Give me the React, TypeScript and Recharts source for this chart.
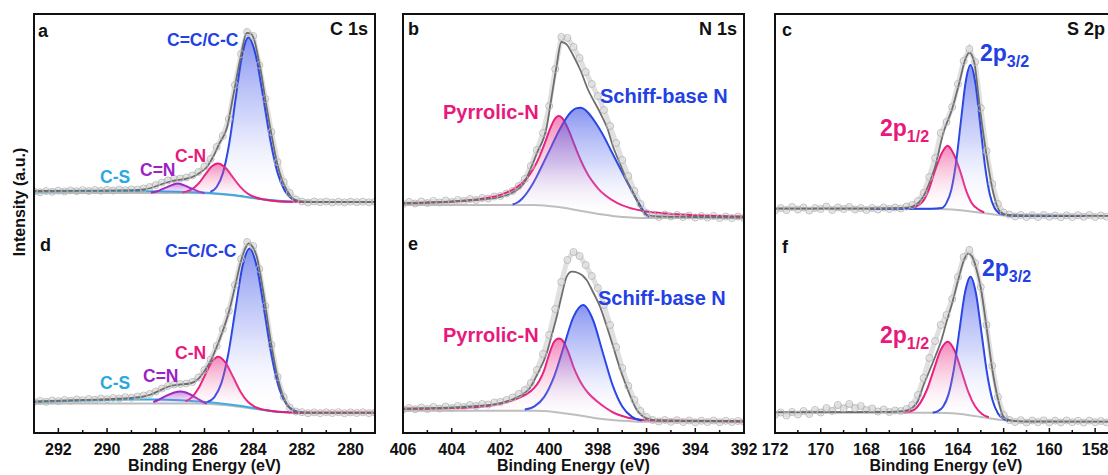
import React from 'react';
import { ComposedChart, Area, XAxis, YAxis } from 'recharts';

type Pt = [number, number];

const FONT = '"Liberation Sans", Arial, Helvetica, sans-serif';
const BLUE = '#2240e4';
const PINK = '#e8197c';
const PURPLE = '#9c22c4';
const CYAN = '#2aa7e2';
const ENV = '#6e6e6e';
const BGL = '#bdbdbd';

// ---------- tick values ----------
const C1S_TICKS = [293, 292, 291, 290, 289, 288, 287, 286, 285, 284, 283, 282, 281, 280, 279];
const N1S_TICKS = [406, 405, 404, 403, 402, 401, 400, 399, 398, 397, 396, 395, 394, 393, 392];
const S2P_TICKS = [172, 171, 170, 169, 168, 167, 166, 165, 164, 163, 162, 161, 160, 159, 158, 157];

// ---------- C 1s, panel a (upper) ----------
const A_RAW: Pt[] = [[293,241.5],[292.75,240.8],[292.5,242],[292.25,241.2],[292,242.3],[291.75,241.5],[291.5,242.6],[291.25,241.8],[291,242.8],[290.75,242],[290.5,243],[290.25,242.2],[290,243.2],[289.75,242.4],[289.5,243.4],[289.25,242.8],[289,243.6],[288.75,243.5],[288.5,244.5],[288.25,246],[288,248],[287.75,250.5],[287.5,252.5],[287.25,254],[287,254.5],[286.75,255.5],[286.5,257.5],[286.25,261],[286,266.5],[285.75,274],[285.5,286],[285.25,297],[285,314],[284.75,348],[284.5,379],[284.25,401],[284,397],[283.75,368],[283.5,334],[283.25,301],[283,271],[282.75,251],[282.5,240],[282.25,233.5],[282,231.5],[281.75,230.5],[281.5,231.5],[281.25,230.8],[281,231.5],[280.75,230.5],[280.5,231.2],[280.25,230.6],[280,231.4],[279.75,230.8],[279.5,231.3],[279.25,230.7],[279,231.2]];
const A_ENV: Pt[] = [[293,242],[291,242.3],[289,242.8],[288.5,243.5],[288.2,245],[287.8,248.5],[287.4,251.5],[287.1,253],[286.8,254],[286.5,256],[286.2,260],[285.9,266],[285.65,276],[285.4,289],[285.07,306],[284.83,336],[284.54,373],[284.26,400],[284.1,399.5],[284,396],[283.72,366],[283.43,323],[283.2,292],[283,268],[282.8,252],[282.6,242],[282.35,234],[282,231.5],[281.5,231],[279,231]];
const A_BG: Pt[] = [[293,240],[286.5,240],[286,239.7],[285.5,239],[285,238],[284.5,236.5],[284,234.8],[283.5,233.2],[283,231.8],[282.5,231.2],[282,231],[279,231]];
const A_CS: Pt[] = [[293,241.5],[291,242],[289,242],[287.5,241.5],[286.2,240.5],[285.5,239.6],[284.8,238],[284,235.2],[283.4,233.3],[282.5,231.5],[282,231]];
const A_CN2: Pt[] = [[288.2,240.4],[288,241.3],[287.8,243.1],[287.55,245.7],[287.3,248.3],[287.1,249.4],[286.9,248.3],[286.65,245.7],[286.4,243.1],[286.2,241.1],[286,240.1]];
const A_CN: Pt[] = [[286.9,240.6],[286.75,241.4],[286.49,244.1],[286.23,249.8],[285.97,258.3],[285.71,266.4],[285.45,269.6],[285.15,265.4],[284.85,256.1],[284.55,246.7],[284.25,239.8],[283.95,236],[283.5,233.2],[283,231.8],[282.5,231.2],[282,231],[279,231]];
const A_CC: Pt[] = [[285.76,241.1],[285.5,246],[285.24,260.1],[284.98,290],[284.72,334.3],[284.46,377.4],[284.2,395.5],[283.9,378],[283.6,337],[283.3,293],[283,260],[282.7,242],[282.4,234],[282.1,231.5]];

// ---------- C 1s, panel d (lower) ----------
const D_RAW: Pt[] = [[293,31],[292.75,32],[292.5,31.2],[292.25,32.5],[292,31.8],[291.75,33],[291.5,32.2],[291.25,33.5],[291,32.8],[290.75,34],[290.5,33.2],[290.25,34.5],[290,33.8],[289.75,35],[289.5,34.5],[289.25,35.8],[289,35.2],[288.75,36.5],[288.5,37.5],[288.25,39],[288,41.5],[287.75,44.5],[287.5,47],[287.25,48.5],[287,49],[286.75,49.5],[286.5,51],[286.25,55.5],[286,63],[285.75,73.5],[285.5,87],[285.25,104],[285,122],[284.75,148],[284.5,174],[284.25,191],[284,187],[283.75,164],[283.5,127],[283.25,88],[283,56],[282.75,36],[282.5,25.5],[282.25,21.5],[282,20.8],[281.75,19.8],[281.5,20.6],[281.25,19.9],[281,20.7],[280.75,20],[280.5,20.8],[280.25,19.8],[280,20.6],[279.75,20],[279.5,20.7],[279.25,19.9],[279,20.5]];
const D_ENV: Pt[] = [[293,31.5],[291,33],[289,35],[288.5,36.5],[288.2,38.5],[287.8,43],[287.4,47],[287,48.5],[286.6,49.5],[286.3,53],[286,62],[285.75,72],[285.5,86],[285.25,102],[285,121],[284.75,146],[284.5,172],[284.3,186],[284.18,189.7],[284.05,187],[283.85,176],[283.6,143],[283.3,95],[283.03,59],[282.76,36],[282.5,25],[282.2,21],[281.5,20.3],[279,20.3]];
const D_BG: Pt[] = [[293,29.5],[286.5,29.5],[286,29.2],[285.5,28.5],[285,27.5],[284.5,26],[284,24.3],[283.5,22.7],[283,21.3],[282.5,20.6],[282,20.3],[279,20.3]];
const D_CS: Pt[] = [[293,31],[291,32.5],[289,33.5],[288,33.5],[287,32.8],[286.2,31.5],[285.5,30],[284.8,28],[284,25],[283.5,22.8],[283,21.2],[282.5,20.5]];
const D_CN2: Pt[] = [[288.1,31],[287.9,33],[287.7,35.5],[287.45,38.5],[287.2,40.8],[287,41.5],[286.8,40.8],[286.55,38],[286.3,34.5],[286.1,31.5],[285.9,29.5]];
const D_CN: Pt[] = [[286.78,31.6],[286.51,35.9],[286.24,44.9],[285.97,58.2],[285.7,71],[285.43,76.3],[285.13,70.1],[284.83,56.2],[284.53,41.6],[284.23,31.5],[283.93,26.1],[283.63,23.6],[283.3,22.2],[283,21.3],[282.5,20.6],[282,20.3],[279,20.3]];
const D_CC: Pt[] = [[285.89,30.9],[285.6,35.7],[285.31,49.6],[285.02,79.3],[284.73,123.5],[284.44,166.5],[284.15,184.5],[283.84,164.7],[283.53,119.6],[283.22,73.7],[282.91,42.7],[282.6,27.7],[282.29,22.2],[282,20.4]];

// ---------- N 1s, panel b (upper) ----------
const B_RAW: Pt[] = [[406,229],[405.75,231],[405.5,229.5],[405.25,231.5],[405,230],[404.75,232],[404.5,230.5],[404.25,232.5],[404,231],[403.75,233],[403.5,232],[403.25,234],[403,233],[402.75,235],[402.5,234.5],[402.25,236.5],[402,237],[401.75,239.5],[401.5,242],[401.25,247],[401,254],[400.75,267],[400.5,283],[400.25,300],[400,327],[399.75,364],[399.5,396],[399.25,395],[399,386],[398.75,375],[398.5,361],[398.25,349],[398,337],[397.75,323],[397.5,307],[397.25,290],[397,273],[396.75,257],[396.5,242],[396.25,229],[396,220],[395.75,218],[395.5,216],[395.25,218.5],[395,216.5],[394.75,218],[394.5,216],[394.25,217.5],[394,215.5],[393.75,217],[393.5,215.5],[393.25,217],[393,215],[392.75,216.5],[392.5,215],[392.25,216.5],[392,215]];
const B_ENV: Pt[] = [[406,230],[404,231.5],[403,233],[402,236],[401.5,240.5],[401,251],[400.8,262],[400.5,280],[400.1,306],[399.9,336],[399.7,366],[399.5,391],[399.3,389],[399,377],[398.7,362],[398.45,346],[397.9,320],[397.6,304],[397.37,286],[397.1,270],[396.82,253],[396.5,238],[396.27,226],[396,218],[395.5,216.5],[394,216],[392,215.5]];
const B_BG: Pt[] = [[406,228],[400.6,228],[400.2,227.6],[399.8,226.6],[399.4,225.2],[399,223.5],[398.6,221.7],[398.2,220],[397.8,218.4],[397.4,217],[397,216],[396.5,215.3],[396,215],[392,215]];
const B_PYR: Pt[] = [[406,229.6],[405,230.2],[404,231.3],[403,233.4],[402.5,235.2],[402,238.1],[401.5,243.2],[401.2,248],[401,252.5],[400.8,258.4],[400.6,266.2],[400.4,276.2],[400.2,288.3],[400,301.7],[399.8,312.8],[399.6,316.9],[399.4,312.7],[399.2,302.8],[399,290.4],[398.8,278.1],[398.6,267.2],[398.4,258.1],[398.2,250.8],[398,244.7],[397.7,237.7],[397.2,229.9],[396.7,225.1],[396.2,222.3],[395.2,219.5],[394.2,218],[392,216.5]];
const B_SCH: Pt[] = [[401.5,228.5],[401.3,230.5],[401.1,234.5],[400.9,240.5],[400.7,248],[400.5,256.9],[400.3,266.8],[400.1,276.9],[399.9,286.9],[399.7,297.3],[399.5,306.6],[399.3,314.8],[399.1,321],[398.9,324.6],[398.7,325.2],[398.5,322.8],[398.3,317.4],[398.1,310.5],[397.9,302.7],[397.7,294],[397.5,284.3],[397.3,274.7],[397.1,265.2],[396.9,255.8],[396.7,246.5],[396.5,237.3],[396.3,229.1],[396.1,221],[395.9,216]];

// ---------- N 1s, panel e (lower) ----------
const E_RAW: Pt[] = [[406,23.5],[405.75,25],[405.5,23.8],[405.25,25.5],[405,24],[404.75,26],[404.5,24.5],[404.25,26.5],[404,25],[403.75,27],[403.5,26],[403.25,28],[403,27],[402.75,29],[402.5,28.5],[402.25,30.5],[402,31],[401.75,33],[401.5,35.5],[401.25,39],[401,43],[400.75,50],[400.5,63],[400.25,79],[400,98],[399.75,124],[399.5,151],[399.25,173],[399,181],[398.75,177],[398.5,168],[398.25,157],[398,145],[397.75,128],[397.5,108],[397.25,86],[397,65],[396.75,47],[396.5,33],[396.25,22],[396,16],[395.75,13],[395.5,11.5],[395.25,13],[395,11.2],[394.75,12.8],[394.5,11],[394.25,12.5],[394,10.8],[393.75,12.2],[393.5,11],[393.25,12.5],[393,10.8],[392.75,12.2],[392.5,11],[392.25,12],[392,11]];
const E_ENV: Pt[] = [[406,24.5],[404,25.5],[403,27],[402,30],[401.47,34],[401,40],[400.79,45],[400.5,58],[400.1,79.7],[399.9,97],[399.69,116.3],[399.48,138],[399.28,156.3],[399.07,161.3],[398.8,160],[398.46,153],[398.2,141],[397.91,126.3],[397.64,107],[397.37,86.3],[397.1,65],[396.82,46.3],[396.6,33],[396.4,23],[396.2,17.5],[396,14.7],[395.5,12.5],[394,12],[392,11.5]];
const E_BG: Pt[] = [[406,22.3],[400.6,22.3],[400.2,21.9],[399.8,21],[399.4,19.8],[399,18.4],[398.6,16.9],[398.2,15.3],[397.8,14],[397.4,13],[397,12.2],[396.5,11.6],[396,11.3],[392,11.3]];
const E_PYR: Pt[] = [[406,24],[404.2,24.7],[402.8,26.3],[402,29.3],[401.5,32.8],[401,37.8],[400.6,45.3],[400.4,52.2],[400.2,62.9],[400,78.5],[399.8,91],[399.6,94.4],[399.4,90.8],[399.2,80],[399,66],[398.8,55],[398.6,46.5],[398.4,40],[398.05,32],[397.7,25.5],[397.37,20.5],[397,17],[396.55,14.3],[395.6,12.6],[392,11.8]];
const E_SCH: Pt[] = [[401,23.4],[400.6,26.7],[400.2,36.1],[399.8,56.1],[399.4,86.3],[399,116.1],[398.6,127.9],[398.2,113],[397.8,80.5],[397.4,48.1],[397,26.4],[396.6,16.1],[396.2,12.4]];

// ---------- S 2p, panel c (upper) ----------
const C_RAW: Pt[] = [[172,222.5],[171.75,225],[171.5,223],[171.25,226],[171,223.5],[170.75,225.5],[170.5,222.5],[170.25,225],[170,224],[169.75,226.5],[169.5,223],[169.25,225.5],[169,224],[168.75,226],[168.5,223.5],[168.25,225],[168,223],[167.75,225],[167.5,223.5],[167.25,225.5],[167,224],[166.75,225.5],[166.5,224.5],[166.25,226.5],[166,228],[165.75,232],[165.5,240],[165.25,256],[165,275],[164.75,300],[164.5,311],[164.25,326],[164,349],[163.75,372],[163.5,384],[163.25,371],[163,325],[162.75,282],[162.5,249],[162.25,229],[162,220.5],[161.75,218.5],[161.5,216.5],[161.25,218],[161,216],[160.75,217.8],[160.5,216],[160.25,218],[160,216.2],[159.75,217.5],[159.5,215.8],[159.25,217.6],[159,216],[158.75,217.8],[158.5,216.2],[158.25,218],[158,216],[157.75,217.5],[157.5,216.3],[157.25,217.6],[157,216.2]];
const C_ENV: Pt[] = [[172,224.5],[168,224.5],[166.5,225],[166,226.5],[165.5,237],[165.25,250],[165,266],[164.64,300],[164.27,323],[163.91,353],[163.69,373],[163.5,380.3],[163.3,372],[163.03,323],[162.74,276.3],[162.45,239.7],[162.16,221.3],[161.8,218],[161,217.5],[157,217]];
const C_BG: Pt[] = [[172,224],[165,224],[164.5,223.7],[164,223],[163.5,221.8],[163,220.3],[162.5,218.8],[162,217.7],[161.5,217.2],[161,217],[157,217]];
const C_P12: Pt[] = [[166.05,224.7],[165.8,226.8],[165.5,232.6],[165.25,244.7],[165,262.7],[164.7,280.1],[164.45,287.3],[164.2,279.5],[163.9,261.6],[163.65,242.9],[163.4,230.1],[163.1,223.5],[162.85,220.6]];
const C_P32: Pt[] = [[167.85,224.2],[166,224.2],[165.2,224.3],[164.71,225],[164.5,230.1],[164.29,243.1],[164.08,270.6],[163.87,311.5],[163.66,351.2],[163.45,368],[163.24,350.1],[163.03,309.2],[162.82,267.3],[162.61,238.9],[162.4,225],[162.19,219.7],[161.98,218],[161.5,217.2],[158.5,217]];

// ---------- S 2p, panel f (lower) ----------
const F_RAW: Pt[] = [[172,18],[171.75,20.5],[171.5,17.5],[171.25,21],[171,18.5],[170.75,22],[170.5,19],[170.25,23],[170,20.5],[169.75,25],[169.5,22],[169.25,28],[169,24.5],[168.75,29],[168.5,25],[168.25,27],[168,23],[167.75,24.5],[167.5,21.5],[167.25,23.5],[167,21],[166.75,22.5],[166.5,22],[166.25,24],[166,28],[165.75,38],[165.5,55],[165.25,75],[165,92],[164.75,108],[164.5,118],[164.25,134],[164,156],[163.75,176],[163.5,183],[163.25,170],[163,146],[162.75,108],[162.5,67],[162.25,36],[162,18],[161.75,13],[161.5,11],[161.25,12.8],[161,10.5],[160.75,12.5],[160.5,10.8],[160.25,12.6],[160,10.5],[159.75,12.4],[159.5,10.6],[159.25,12.5],[159,10.8],[158.75,12.2],[158.5,10.5],[158.25,12.4],[158,10.8],[157.75,12],[157.5,10.6],[157.25,12.2],[157,11]];
const F_ENV: Pt[] = [[172,20.8],[167,21],[166.4,21.8],[166,25],[165.75,32],[165.5,48],[165.25,62],[165,76],[164.75,91],[164.5,111],[164.25,130],[164,152],[163.75,172],[163.55,179.7],[163.35,175],[163.18,163],[163,145],[162.75,106],[162.5,64],[162.25,34],[162,16],[161.7,12.5],[161,11.5],[157,11.3]];
const F_BG: Pt[] = [[172,20.3],[165,20.3],[164.5,20],[164,19.2],[163.5,17.8],[163,16],[162.5,14.2],[162,12.7],[161.5,11.8],[161,11.4],[157,11.3]];
const F_P12: Pt[] = [[166.4,20.8],[166.2,21.1],[165.9,23.4],[165.65,29.9],[165.35,43.5],[165.05,63.6],[164.75,83.1],[164.45,91.3],[164.15,82.5],[163.85,62.2],[163.55,41.2],[163.25,26.7],[162.95,19],[162.65,15.7]];
const F_P32: Pt[] = [[165.1,20.5],[164.89,21.7],[164.65,26.2],[164.41,38.6],[164.17,64.5],[163.93,103.1],[163.69,140.6],[163.45,156.3],[163.21,139.3],[162.97,100],[162.73,60],[162.49,32.9],[162.25,19.5],[162.01,14.2],[161.8,12.3]];

// ---------- helpers ----------
const rows = (pts: Pt[]) => pts.map(([x, y]) => ({ x, y }));
const lerp = (pts: Pt[], x: number) => {
  const s = [...pts].sort((a, b) => a[0] - b[0]);
  if (x <= s[0][0]) return s[0][1];
  if (x >= s[s.length - 1][0]) return s[s.length - 1][1];
  for (let i = 1; i < s.length; i++) {
    if (x <= s[i][0]) {
      const [x0, y0] = s[i - 1];
      const [x1, y1] = s[i];
      return y0 + ((y1 - y0) * (x - x0)) / (x1 - x0);
    }
  }
  return s[s.length - 1][1];
};
const band = (pts: Pt[], bg: Pt[]) => pts.map(([x, y]) => ({ x, r: [Math.min(lerp(bg, x), y), y] }));

interface Comp { pts: Pt[]; color: string; grad: string }
interface PanelData { raw: Pt[]; env: Pt[]; bg: Pt[]; cs?: Pt[]; comps: Comp[] }

const PLOT_BOTTOM = 433;

const makeTick = (props: any) => {
  const { x, payload } = props;
  const v = payload.value as number;
  const major = v % 2 === 0;
  return (
    <g>
      <line x1={x} x2={x} y1={PLOT_BOTTOM} y2={PLOT_BOTTOM - (major ? 5 : 3)} stroke="#111" strokeWidth={1.5} />
      {major && (
        <text x={x} y={PLOT_BOTTOM + 22} textAnchor="middle" fontSize={16} fontWeight="bold" fontFamily={FONT} fill="#111">
          {v}
        </text>
      )}
    </g>
  );
};

// every curve is an Area (unfilled for outlines) so the drawing order follows this list
const outline = (key: string, pts: Pt[], color: string, width: number) => (
  <Area key={key} data={rows(pts)} dataKey="y" type="monotone" stroke={color} strokeWidth={width} fill="none" dot={false} activeDot={false} isAnimationActive={false} />
);

function Column({ id, left, plotW, domain, ticks, panels }: { id: string; left: number; plotW: number; domain: [number, number]; ticks: number[]; panels: PanelData[] }) {
  const g = (n: string) => `${id}-${n}`;
  const items: React.ReactNode[] = [];
  // raw data
  panels.forEach((p, i) => {
    items.push(
      <Area key={`raw${i}`} data={rows(p.raw)} dataKey="y" type="linear" stroke="#e0e0e0" strokeWidth={5} fill="none"
        dot={{ r: 3.5, stroke: '#b7b7b7', strokeWidth: 0.9, fill: 'none' }} activeDot={false} isAnimationActive={false} />
    );
  });
  // background and C-S
  panels.forEach((p, i) => {
    items.push(outline(`bg${i}`, p.bg, BGL, 2));
    if (p.cs) items.push(outline(`cs${i}`, p.cs, CYAN, 2));
  });
  // component outlines
  panels.forEach((p, i) => {
    p.comps.forEach((c, j) => items.push(outline(`cl${i}-${j}`, c.pts, c.color, 2)));
  });
  // gradient fills between component and background
  panels.forEach((p, i) => {
    p.comps.forEach((c, j) => {
      items.push(<Area key={`ca${i}-${j}`} data={band(c.pts, p.bg)} dataKey="r" type="monotone" stroke="none" fill={`url(#${g(c.grad)})`} dot={false} activeDot={false} isAnimationActive={false} />);
    });
  });
  // fitted envelope
  panels.forEach((p, i) => items.push(outline(`env${i}`, p.env, ENV, 1.8)));
  return (
    <div style={{ position: 'absolute', left: left - 20, top: 0 }}>
      <ComposedChart width={plotW + 40} height={475} margin={{ top: 14, right: 20, bottom: 0, left: 20 }}>
        <defs>
          <linearGradient id={g('blue')} x1="0" y1="0" x2="0" y2="1">
            <stop offset="0%" stopColor="#2c43e6" stopOpacity={0.95} />
            <stop offset="50%" stopColor="#6d7ef0" stopOpacity={0.5} />
            <stop offset="100%" stopColor="#ffffff" stopOpacity={0} />
          </linearGradient>
          <linearGradient id={g('pink')} x1="0" y1="0" x2="0" y2="1">
            <stop offset="0%" stopColor="#e8217f" stopOpacity={0.9} />
            <stop offset="50%" stopColor="#f070a8" stopOpacity={0.4} />
            <stop offset="100%" stopColor="#ffffff" stopOpacity={0} />
          </linearGradient>
          <linearGradient id={g('purple')} x1="0" y1="0" x2="0" y2="1">
            <stop offset="0%" stopColor="#a02cc8" stopOpacity={0.9} />
            <stop offset="100%" stopColor="#c080e0" stopOpacity={0.15} />
          </linearGradient>
        </defs>
        <XAxis type="number" dataKey="x" domain={domain} reversed allowDataOverflow ticks={ticks} interval={0}
          tickLine={false} axisLine={false} height={42} tickSize={0} tickMargin={0} tick={makeTick} />
        <YAxis type="number" domain={[0, 419]} hide allowDataOverflow />
        {items}
      </ComposedChart>
    </div>
  );
}

const C1S_PANELS: PanelData[] = [
  { raw: A_RAW, env: A_ENV, bg: A_BG, cs: A_CS, comps: [
    { pts: A_CC, color: BLUE, grad: 'blue' }, { pts: A_CN, color: PINK, grad: 'pink' }, { pts: A_CN2, color: PURPLE, grad: 'purple' }] },
  { raw: D_RAW, env: D_ENV, bg: D_BG, cs: D_CS, comps: [
    { pts: D_CC, color: BLUE, grad: 'blue' }, { pts: D_CN, color: PINK, grad: 'pink' }, { pts: D_CN2, color: PURPLE, grad: 'purple' }] },
];
const N1S_PANELS: PanelData[] = [
  { raw: B_RAW, env: B_ENV, bg: B_BG, comps: [{ pts: B_PYR, color: PINK, grad: 'pink' }, { pts: B_SCH, color: BLUE, grad: 'blue' }] },
  { raw: E_RAW, env: E_ENV, bg: E_BG, comps: [{ pts: E_PYR, color: PINK, grad: 'pink' }, { pts: E_SCH, color: BLUE, grad: 'blue' }] },
];
const S2P_PANELS: PanelData[] = [
  { raw: C_RAW, env: C_ENV, bg: C_BG, comps: [{ pts: C_P12, color: PINK, grad: 'pink' }, { pts: C_P32, color: BLUE, grad: 'blue' }] },
  { raw: F_RAW, env: F_ENV, bg: F_BG, comps: [{ pts: F_P12, color: PINK, grad: 'pink' }, { pts: F_P32, color: BLUE, grad: 'blue' }] },
];

function T({ x, base, size, color = '#111', children }: { x: number; base: number; size: number; color?: string; children: React.ReactNode }) {
  return (
    <div style={{ position: 'absolute', left: x, top: base - 0.8465 * size, fontSize: size, lineHeight: `${size}px`, fontWeight: 700, color, whiteSpace: 'nowrap', fontFamily: FONT }}>
      {children}
    </div>
  );
}

function Sub({ x, base, main, sub, color }: { x: number; base: number; main: string; sub: string; color: string }) {
  return (
    <T x={x} base={base} size={23} color={color}>
      {main}
      <span style={{ fontSize: 16, position: 'relative', top: 6 }}>{sub}</span>
    </T>
  );
}

function Box({ left, width }: { left: number; width: number }) {
  return <div style={{ position: 'absolute', left: left - 1, top: 13, width: width + 2, height: 421, border: '2px solid #111', boxSizing: 'border-box' }} />;
}

function Title({ cx }: { cx: number }) {
  return (
    <div style={{ position: 'absolute', left: cx, top: 471.5 - 0.8465 * 16, transform: 'translateX(-50%)', fontSize: 16, lineHeight: '16px', fontWeight: 700, whiteSpace: 'nowrap', fontFamily: FONT, color: '#111' }}>
      Binding Energy (eV)
    </div>
  );
}

export default function App() {
  return (
    <div style={{ position: 'absolute', left: 0, top: 0, width: 1108, height: 475, overflow: 'hidden', background: '#fff', fontFamily: FONT }}>
      <Column id="c1s" left={34} plotW={341} domain={[279, 293]} ticks={C1S_TICKS} panels={C1S_PANELS} />
      <Column id="n1s" left={403} plotW={341} domain={[392, 406]} ticks={N1S_TICKS} panels={N1S_PANELS} />
      <Column id="s2p" left={775} plotW={343} domain={[157, 172]} ticks={S2P_TICKS} panels={S2P_PANELS} />

      <Box left={34} width={341} />
      <Box left={403} width={341} />
      <Box left={775} width={343} />

      <Title cx={204.5} />
      <Title cx={573.5} />
      <Title cx={946} />

      <div style={{ position: 'absolute', left: 20, top: 202, transform: 'translate(-50%, -50%) rotate(-90deg)', fontSize: 16, lineHeight: '16px', fontWeight: 700, whiteSpace: 'nowrap', color: '#111' }}>
        Intensity (a.u.)
      </div>

      <T x={38} base={37.5} size={18}>a</T>
      <T x={330} base={35.5} size={18}>C 1s</T>
      <T x={40} base={251.5} size={18}>d</T>
      <T x={408} base={35.5} size={18}>b</T>
      <T x={699} base={35.5} size={18}>N 1s</T>
      <T x={408} base={250} size={18}>e</T>
      <T x={782} base={36.5} size={18}>c</T>
      <T x={1067} base={35.5} size={18}>S 2p</T>
      <T x={782} base={253} size={18}>f</T>

      <T x={167} base={47} size={17.5} color={BLUE}>C=C/C-C</T>
      <T x={175} base={163} size={17.5} color={PINK}>C-N</T>
      <T x={140} base={177} size={17.5} color={PURPLE}>C=N</T>
      <T x={100} base={184} size={17.5} color={CYAN}>C-S</T>
      <T x={165} base={258} size={17.5} color={BLUE}>C=C/C-C</T>
      <T x={175} base={360} size={17.5} color={PINK}>C-N</T>
      <T x={143} base={383} size={17.5} color={PURPLE}>C=N</T>
      <T x={100} base={390} size={17.5} color={CYAN}>C-S</T>

      <T x={443} base={118.5} size={20} color={PINK}>Pyrrolic-N</T>
      <T x={600} base={103.3} size={20} color={BLUE}>Schiff-base N</T>
      <T x={443} base={341.7} size={20} color={PINK}>Pyrrolic-N</T>
      <T x={598} base={305} size={20} color={BLUE}>Schiff-base N</T>

      <Sub x={980} base={61.7} main="2p" sub="3/2" color={BLUE} />
      <Sub x={880} base={136.7} main="2p" sub="1/2" color={PINK} />
      <Sub x={982} base={276.7} main="2p" sub="3/2" color={BLUE} />
      <Sub x={880} base={343.3} main="2p" sub="1/2" color={PINK} />
    </div>
  );
}
